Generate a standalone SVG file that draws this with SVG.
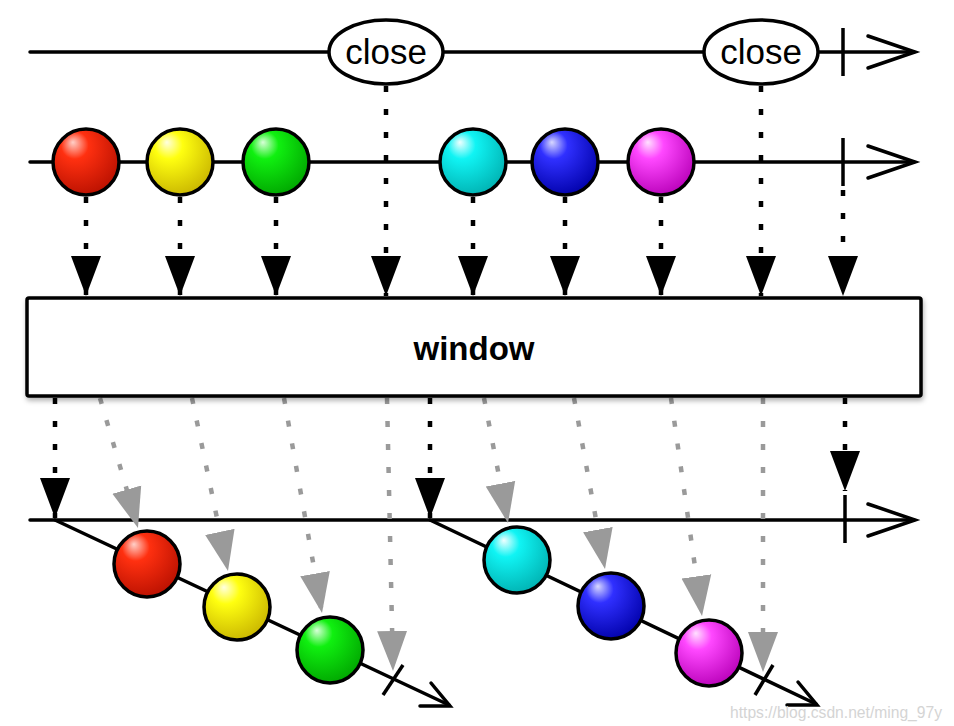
<svg xmlns="http://www.w3.org/2000/svg" width="954" height="726" viewBox="0 0 954 726">
<style>
.line{stroke:#000;stroke-width:3.5;fill:none;stroke-linecap:round}
.chev{stroke:#000;stroke-width:3.5;fill:none;stroke-linecap:round;stroke-linejoin:miter}
.tick{stroke:#000;stroke-width:3.5;fill:none}
.ball{stroke:#000;stroke-width:3.5}
.dotb{stroke:#000;stroke-width:4.5;fill:none;stroke-dasharray:6 17;marker-end:url(#triB)}
.dotg{stroke:#9a9a9a;stroke-width:4.5;fill:none;stroke-dasharray:6 17;marker-end:url(#triG)}
.lbl{font-family:"Liberation Sans",Arial,sans-serif;font-size:35px;text-anchor:middle;fill:#000}
.wlbl{font-family:"Liberation Sans",Arial,sans-serif;font-size:33px;font-weight:bold;text-anchor:middle;fill:#000}
</style>
<defs>
<marker id="triB" markerUnits="userSpaceOnUse" viewBox="0 -16 41 32" markerWidth="41" markerHeight="32" refX="40" refY="0" orient="auto"><path d="M0,-15 L40,0 L0,15 Z" fill="#000"/></marker>
<marker id="triG" markerUnits="userSpaceOnUse" viewBox="0 -16 41 32" markerWidth="41" markerHeight="32" refX="40" refY="0" orient="auto"><path d="M0,-15 L40,0 L0,15 Z" fill="#9a9a9a"/></marker>
<filter id="sh" x="-5%" y="-20%" width="110%" height="140%"><feDropShadow dx="1" dy="3" stdDeviation="2.5" flood-color="#000" flood-opacity="0.3"/></filter>
<radialGradient id="gR" cx="0.4" cy="0.35" r="0.7" fx="0.3" fy="0.2"><stop offset="0" stop-color="#ffd0c8"/><stop offset="0.3" stop-color="#ff3010"/><stop offset="1" stop-color="#b81000"/></radialGradient>
<radialGradient id="gY" cx="0.4" cy="0.35" r="0.7" fx="0.3" fy="0.2"><stop offset="0" stop-color="#ffffe0"/><stop offset="0.3" stop-color="#ffff10"/><stop offset="1" stop-color="#c8b400"/></radialGradient>
<radialGradient id="gG" cx="0.4" cy="0.35" r="0.7" fx="0.3" fy="0.2"><stop offset="0" stop-color="#d8ffd8"/><stop offset="0.3" stop-color="#10f010"/><stop offset="1" stop-color="#00a400"/></radialGradient>
<radialGradient id="gC" cx="0.4" cy="0.35" r="0.7" fx="0.3" fy="0.2"><stop offset="0" stop-color="#f0ffff"/><stop offset="0.3" stop-color="#10f4f4"/><stop offset="1" stop-color="#00b0b0"/></radialGradient>
<radialGradient id="gB" cx="0.4" cy="0.35" r="0.7" fx="0.3" fy="0.2"><stop offset="0" stop-color="#d8d8ff"/><stop offset="0.3" stop-color="#3030ff"/><stop offset="1" stop-color="#0000a8"/></radialGradient>
<radialGradient id="gM" cx="0.4" cy="0.35" r="0.7" fx="0.3" fy="0.2"><stop offset="0" stop-color="#ffe0ff"/><stop offset="0.3" stop-color="#ff48ff"/><stop offset="1" stop-color="#b800b8"/></radialGradient>
</defs>
<rect width="954" height="726" fill="#fff"/>

<g id="timelines">
<line class="line" x1="30" y1="52" x2="914" y2="52"/>
<polyline class="chev" points="868,36 915,52 868,68"/>
<line class="tick" x1="843" y1="28" x2="843" y2="76"/>
<line class="line" x1="30" y1="162" x2="914" y2="162"/>
<polyline class="chev" points="868,146 915,162 868,178"/>
<line class="tick" x1="843" y1="138" x2="843" y2="186"/>
<line class="line" x1="30" y1="520" x2="914" y2="520"/>
<polyline class="chev" points="868,504 915,520 868,536"/>
<line class="tick" x1="845" y1="495" x2="845" y2="543"/>
<line class="line" x1="55" y1="520" x2="449" y2="705"/>
<polyline class="chev" points="431,683 450,706 420,706"/>
<line class="tick" x1="383" y1="695" x2="403" y2="665"/>
<line class="line" x1="430" y1="520" x2="816" y2="704"/>
<polyline class="chev" points="798,682 817,705 787,705"/>
<line class="tick" x1="755" y1="695" x2="773" y2="665"/>
</g>

<g id="connectors">
<line class="dotb" x1="86" y1="197" x2="86" y2="296"/>
<line class="dotb" x1="180" y1="197" x2="180" y2="296"/>
<line class="dotb" x1="276" y1="197" x2="276" y2="296"/>
<line class="dotb" x1="386" y1="86" x2="386" y2="296"/>
<line class="dotb" x1="473" y1="197" x2="473" y2="296"/>
<line class="dotb" x1="565" y1="197" x2="565" y2="296"/>
<line class="dotb" x1="661" y1="197" x2="661" y2="296"/>
<line class="dotb" x1="761" y1="86" x2="761" y2="296"/>
<line class="dotb" x1="843" y1="190" x2="843" y2="296"/>
<line class="dotb" x1="55" y1="398" x2="55" y2="518"/>
<line class="dotb" x1="430" y1="398" x2="430" y2="518"/>
<line class="dotb" x1="845" y1="398" x2="845" y2="491"/>
<line class="dotg" x1="100" y1="398" x2="138" y2="528"/>
<line class="dotg" x1="192" y1="398" x2="228" y2="571"/>
<line class="dotg" x1="284" y1="398" x2="322" y2="613"/>
<line class="dotg" x1="387" y1="398" x2="393" y2="671"/>
<line class="dotg" x1="484" y1="398" x2="508" y2="523"/>
<line class="dotg" x1="574" y1="398" x2="605" y2="569"/>
<line class="dotg" x1="671" y1="398" x2="702" y2="616"/>
<line class="dotg" x1="763" y1="398" x2="763" y2="672"/>
</g>

<g id="close1"><ellipse cx="386" cy="52" rx="57" ry="32" fill="#fff" stroke="#000" stroke-width="3.5"/><text class="lbl" x="386" y="64">close</text></g>
<g id="close2"><ellipse cx="761" cy="52" rx="57" ry="32" fill="#fff" stroke="#000" stroke-width="3.5"/><text class="lbl" x="761" y="64">close</text></g>

<g id="in-red"><circle class="ball" cx="86" cy="162" r="33" fill="url(#gR)"/></g>
<g id="in-yellow"><circle class="ball" cx="180" cy="162" r="33" fill="url(#gY)"/></g>
<g id="in-green"><circle class="ball" cx="276" cy="162" r="33" fill="url(#gG)"/></g>
<g id="in-cyan"><circle class="ball" cx="473" cy="162" r="33" fill="url(#gC)"/></g>
<g id="in-blue"><circle class="ball" cx="565" cy="162" r="33" fill="url(#gB)"/></g>
<g id="in-magenta"><circle class="ball" cx="661" cy="162" r="33" fill="url(#gM)"/></g>

<g id="window"><rect x="27" y="298" width="894" height="98" rx="2" fill="#fff" stroke="#000" stroke-width="3.5" filter="url(#sh)"/><text class="wlbl" x="474" y="360">window</text></g>

<g id="out-red"><circle class="ball" cx="147" cy="564" r="33" fill="url(#gR)"/></g>
<g id="out-yellow"><circle class="ball" cx="237" cy="607" r="33" fill="url(#gY)"/></g>
<g id="out-green"><circle class="ball" cx="330" cy="650" r="33" fill="url(#gG)"/></g>
<g id="out-cyan"><circle class="ball" cx="517" cy="560" r="33" fill="url(#gC)"/></g>
<g id="out-blue"><circle class="ball" cx="611" cy="606" r="33" fill="url(#gB)"/></g>
<g id="out-magenta"><circle class="ball" cx="709" cy="653" r="33" fill="url(#gM)"/></g>

<text x="730" y="718" font-family="'Liberation Sans',Arial,sans-serif" font-size="16" textLength="212" lengthAdjust="spacingAndGlyphs" fill="#d4d4d4">https://blog.csdn.net/ming_97y</text>
</svg>
